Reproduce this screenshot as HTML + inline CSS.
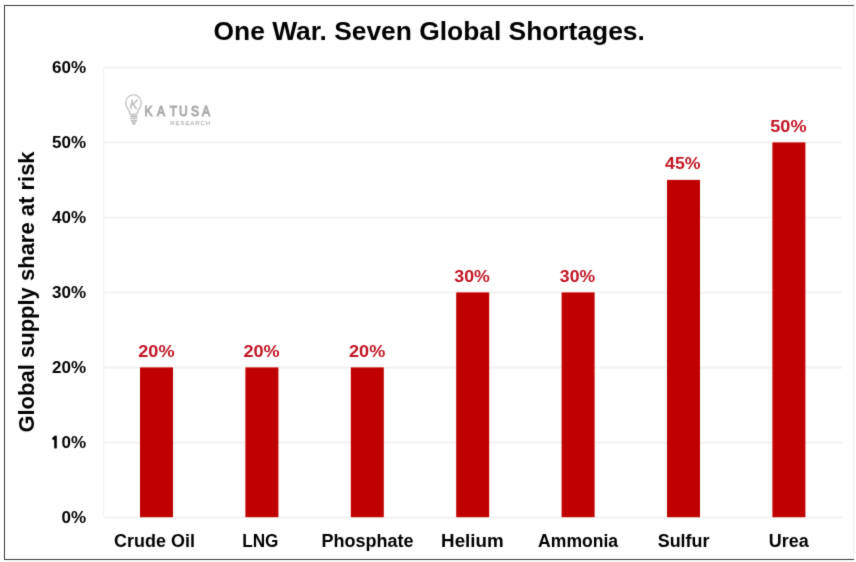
<!DOCTYPE html>
<html>
<head>
<meta charset="utf-8">
<style>
html,body{margin:0;padding:0;background:#fff;}
body{width:856px;height:562px;overflow:hidden;}
svg{display:block;}
text{font-family:"Liberation Sans",Arial,sans-serif;font-weight:bold;}
</style>
</head>
<body>
<svg width="856" height="562" viewBox="0 0 856 562">
<defs><filter id="sf" color-interpolation-filters="sRGB" x="0" y="0" width="100%" height="100%" filterUnits="userSpaceOnUse"><feConvolveMatrix order="3" kernelMatrix="1 6 1 6 40 6 1 6 1" edgeMode="duplicate"/></filter></defs>
<g filter="url(#sf)">
<rect x="0" y="0" width="856" height="562" fill="#fff"/>

<g>
<rect x="4" y="5" width="850" height="1" fill="#383838"/>
<rect x="4" y="559" width="850" height="1" fill="#383838"/>
<rect x="4" y="5" width="1" height="555" fill="#383838"/>
<rect x="853" y="6" width="1" height="553" fill="#f0f0f0"/>
</g>
<!-- gridlines -->
<g stroke="#f2f2f2" stroke-width="2">
<line x1="103.8" y1="517.5" x2="842.5" y2="517.5"/>
<line x1="103.8" y1="442.5" x2="842.5" y2="442.5"/>
<line x1="103.8" y1="367.5" x2="842.5" y2="367.5"/>
<line x1="103.8" y1="292.5" x2="842.5" y2="292.5"/>
<line x1="103.8" y1="217.5" x2="842.5" y2="217.5"/>
<line x1="103.8" y1="142.5" x2="842.5" y2="142.5"/>
<line x1="103.8" y1="67.5" x2="842.5" y2="67.5"/>
</g>
<rect x="103.3" y="67" width="1" height="450" fill="#f0f0f0"/>
<!-- title -->
<text x="429.20" y="40.30" font-size="26.4" textLength="431.28" lengthAdjust="spacing" text-anchor="middle" fill="#000">One War. Seven Global Shortages.</text>
<!-- y tick labels -->
<text x="86.00" y="522.70" font-size="17" text-anchor="end" fill="#000">0%</text>
<text x="86.00" y="447.70" font-size="17" text-anchor="end" fill="#000"><tspan style="font-family:NanumGothic,'Liberation Sans',sans-serif" font-size="15.4" stroke="#000" stroke-width="0.8">1</tspan><tspan dx="1.6">0%</tspan></text>
<text x="86.00" y="372.70" font-size="17" text-anchor="end" fill="#000">20%</text>
<text x="86.00" y="297.70" font-size="17" text-anchor="end" fill="#000">30%</text>
<text x="86.00" y="222.70" font-size="17" text-anchor="end" fill="#000">40%</text>
<text x="86.00" y="147.70" font-size="17" text-anchor="end" fill="#000">50%</text>
<text x="86.00" y="72.70" font-size="17" text-anchor="end" fill="#000">60%</text>
<!-- y axis title -->
<text transform="translate(33.80 292.00) rotate(-90)" font-size="22" text-anchor="middle" fill="#000">Global supply share at risk</text>
<!-- bars -->
<g fill="#C00000">
<rect x="140.0" y="367.4" width="33" height="149.8"/>
<rect x="245.4" y="367.4" width="33" height="149.8"/>
<rect x="350.8" y="367.4" width="33" height="149.8"/>
<rect x="456.2" y="292.4" width="33" height="224.8"/>
<rect x="561.6" y="292.4" width="33" height="224.8"/>
<rect x="667.0" y="179.9" width="33" height="337.3"/>
<rect x="772.4" y="142.4" width="33" height="374.8"/>
</g>
<!-- data labels -->
<text x="156.40" y="357.20" font-size="17" textLength="36.23" lengthAdjust="spacingAndGlyphs" text-anchor="middle" fill="#c01424">20%</text>
<text x="261.60" y="357.20" font-size="17" textLength="36.23" lengthAdjust="spacingAndGlyphs" text-anchor="middle" fill="#c01424">20%</text>
<text x="367.15" y="357.20" font-size="17" textLength="36.13" lengthAdjust="spacingAndGlyphs" text-anchor="middle" fill="#c01424">20%</text>
<text x="472.05" y="282.20" font-size="17" textLength="35.53" lengthAdjust="spacingAndGlyphs" text-anchor="middle" fill="#c01424">30%</text>
<text x="577.50" y="282.20" font-size="17" textLength="35.23" lengthAdjust="spacingAndGlyphs" text-anchor="middle" fill="#c01424">30%</text>
<text x="682.80" y="169.20" font-size="17" textLength="35.43" lengthAdjust="spacingAndGlyphs" text-anchor="middle" fill="#c01424">45%</text>
<text x="788.40" y="132.20" font-size="17" textLength="36.23" lengthAdjust="spacingAndGlyphs" text-anchor="middle" fill="#c01424">50%</text>
<!-- category labels -->
<text x="154.50" y="547.00" font-size="17.5" textLength="80.77" lengthAdjust="spacingAndGlyphs" text-anchor="middle" fill="#000">Crude Oil</text>
<text x="260.30" y="547.00" font-size="17.5" textLength="36.35" lengthAdjust="spacingAndGlyphs" text-anchor="middle" fill="#000">LNG</text>
<text x="367.50" y="547.00" font-size="17.5" textLength="92.07" lengthAdjust="spacingAndGlyphs" text-anchor="middle" fill="#000">Phosphate</text>
<text x="472.40" y="547.00" font-size="17.5" textLength="62.56" lengthAdjust="spacingAndGlyphs" text-anchor="middle" fill="#000">Helium</text>
<text x="578.10" y="547.00" font-size="17.5" textLength="79.93" lengthAdjust="spacingAndGlyphs" text-anchor="middle" fill="#000">Ammonia</text>
<text x="683.60" y="547.00" font-size="17.5" textLength="51.76" lengthAdjust="spacingAndGlyphs" text-anchor="middle" fill="#000">Sulfur</text>
<text x="788.70" y="547.00" font-size="17.5" textLength="39.92" lengthAdjust="spacingAndGlyphs" text-anchor="middle" fill="#000">Urea</text>
<!-- watermark logo -->
<g>
<path transform="translate(0.5 0)" d="M129.6 114.2 C129.2 111.2 127.6 109.6 126.4 107.4 C125.6 105.9 125.2 104.3 125.2 102.7 C125.2 98.2 128.8 94.9 133 94.9 C137.2 94.9 140.8 98.2 140.8 102.7 C140.8 104.3 140.4 105.9 139.6 107.4 C138.4 109.6 136.8 111.2 136.4 114.2 Z" fill="none" stroke="#c2c2c2" stroke-width="1.3"/>
<text x="133.8" y="108.6" font-size="12" font-style="italic" text-anchor="middle" fill="#b8b8b8" stroke="#b8b8b8" stroke-width="0.4" style="font-weight:normal">K</text>
<g fill="#bdbdbd" transform="translate(0.7 0)">
<rect x="129.4" y="115.2" width="7.4" height="1.7" rx="0.8"/>
<rect x="129.4" y="117.6" width="7.4" height="1.7" rx="0.8"/>
<rect x="129.8" y="120" width="6.6" height="1.7" rx="0.8"/>
<path d="M130.8 122.2 H135.4 L134.2 124.8 H132 Z"/>
</g>
<text transform="translate(140 0) scale(0.86 1)" x="5.23 19.77 34.53 45.23 59.19 71.98" y="116.2" font-size="14" fill="#ababab" stroke="#ababab" stroke-width="1.0" style="font-weight:normal">KATUSA</text>
<text x="170.2" y="125" font-size="6" textLength="40" lengthAdjust="spacing" fill="#bcbcbc" stroke="#bcbcbc" stroke-width="0.25" style="font-weight:normal">RESEARCH</text>
</g>
</g>
</svg>
</body>
</html>
